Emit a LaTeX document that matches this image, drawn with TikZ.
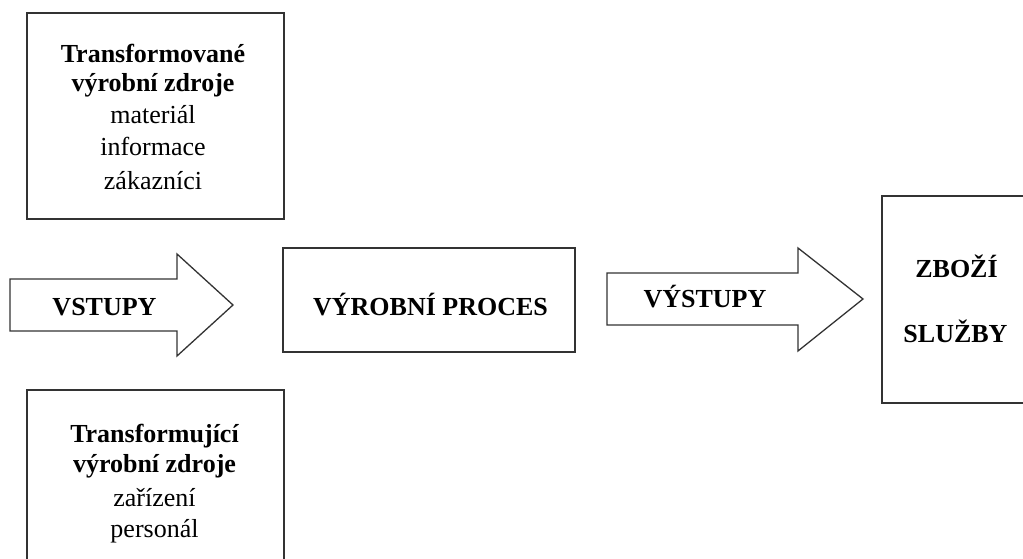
\documentclass[tikz,border=0pt]{standalone}
\usepackage{fontspec}
\setmainfont{Liberation Serif}
\begin{document}
\begin{tikzpicture}[x=1pt,y=-1pt,
  frame/.style={draw=black!80,line width=1.3pt},
  blockarrow/.style={draw=black!80,line width=1.3pt,line join=miter},
  txt/.style={font=\fontsize{26}{30}\selectfont,inner sep=0pt,anchor=base},
  btxt/.style={txt,font=\fontsize{26}{30}\selectfont\bfseries}]
\useasboundingbox (0,0) rectangle (1023,559);
\clip (0,0) rectangle (1023,559);
\fill[white] (0,0) rectangle (1023,559);
% top box
\draw[frame] (27,13) rectangle (284,219);
\node[btxt] (t1) at (153,63) {Transformované};
\node[btxt] (t2) at (153,91.5) {výrobní zdroje};
\node[txt] (t3) at (153,124) {materiál};
\node[txt] (t4) at (153,155.5) {informace};
\node[txt] (t5) at (153,189.5) {zákazníci};
% bottom box
\draw[frame] (27,600) -- (27,390) -- (284,390) -- (284,600);
\node[btxt] (b1) at (154.5,442) {Transformující};
\node[btxt] (b2) at (154.5,472.5) {výrobní zdroje};
\node[txt] (b3) at (154.5,506.5) {zařízení};
\node[txt] (b4) at (154.5,537.5) {personál};
% vstupy arrow
\draw[blockarrow] (10,279) -- (177,279) -- (177,254) -- (233,305) -- (177,356) -- (177,331) -- (10,331) -- cycle;
\node[btxt] (vst) at (104.5,315) {VSTUPY};
% process
\draw[frame] (283,248) rectangle (575,352);
\node[btxt] (proc) at (430.5,315) {VÝROBNÍ PROCES};
% vystupy arrow
\draw[blockarrow] (607,273) -- (798,273) -- (798,248) -- (863,299) -- (798,351) -- (798,325) -- (607,325) -- cycle;
\node[btxt] (vyst) at (705,307) {VÝSTUPY};
% right box
\draw[frame] (1040,196) -- (882,196) -- (882,403) -- (1040,403);
\node[btxt] (zbo) at (956.5,277) {ZBOŽÍ};
\node[btxt] (slu) at (955.5,342) {SLUŽBY};
\end{tikzpicture}
\end{document}
